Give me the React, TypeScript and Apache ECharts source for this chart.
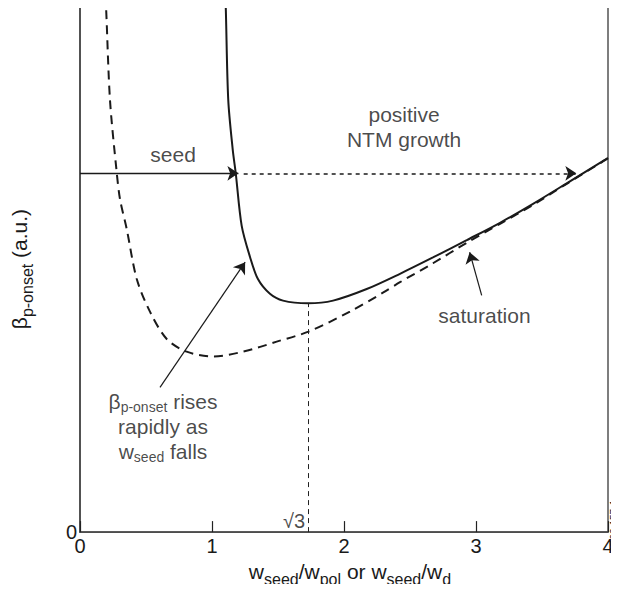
import React, { useEffect, useRef } from "react";
import * as echarts from "echarts";

const FONT = "'Liberation Sans', Arial, Helvetica, sans-serif";
const INK = "#1a1a1a";

// Solid curve (x = w_seed/w_pol)
const solidX = [1.098, 1.104, 1.123, 1.157, 1.18, 1.225, 1.288, 1.348, 1.439, 1.538, 1.727, 1.917, 2.172, 2.424, 2.674, 2.93, 3.182, 3.432, 3.687, 3.939, 4.0];
const solidY = [10.3, 10.0, 8.22, 7.27, 6.82, 5.82, 5.23, 4.81, 4.53, 4.4, 4.35, 4.4, 4.62, 4.91, 5.22, 5.55, 5.88, 6.24, 6.63, 7.02, 7.11];

// Dashed curve (x = w_seed/w_d)
const dashX = [0.19, 0.197, 0.227, 0.278, 0.303, 0.354, 0.43, 0.53, 0.657, 0.808, 1.01, 1.237, 1.49, 1.73, 2.045, 2.295, 2.424, 2.674, 2.93, 3.182, 3.432, 3.687, 3.939, 4.0];
const dashY = [10.2, 10.0, 8.22, 6.84, 6.33, 5.76, 4.81, 4.19, 3.67, 3.43, 3.34, 3.43, 3.62, 3.81, 4.19, 4.55, 4.75, 5.11, 5.5, 5.86, 6.22, 6.62, 7.01, 7.11];

const seedY = 6.82;
const sqrt3 = 1.732;
const solidMin = 4.35;

// Annotation texts (data coordinates of their centres)
const annoX = [0.705, 2.455, 3.064, 0.629, 1.621];
const annoY = [7.14, 7.66, 4.08, 1.97, 0.208];
const annoText = [
  "{b|seed}",
  "{b|positive}\n{b|NTM growth}",
  "{b|saturation}",
  "{b|β}{s|p-onset}{b| rises}\n{b|rapidly as}\n{b|w}{s|seed}{b| falls}",
  "{r|√3}",
];

const xTicks = [0, 1, 2, 3, 4];

export default function App() {
  const ref = useRef<HTMLDivElement>(null);
  useEffect(() => {
    if (!ref.current) return;
    const chart = echarts.init(ref.current, undefined, { renderer: "svg" });
    const rich = {
      b: { fontSize: 21, fontFamily: FONT, color: INK, lineHeight: 25, verticalAlign: "top" },
      s: { fontSize: 14, fontFamily: FONT, color: INK, lineHeight: 14, verticalAlign: "top", padding: [9, 0, 0, 0] },
      r: { fontSize: 20, fontFamily: FONT, color: INK },
    };
    const axRich = {
      b: { fontSize: 21, fontFamily: FONT, color: INK, lineHeight: 25, verticalAlign: "top" },
      s: { fontSize: 16, fontFamily: FONT, color: INK, lineHeight: 15, verticalAlign: "top", padding: [10, 0, 0, 0] },
    };
    const arrowLine = (a: number[], b: number[], type: any, width: number) => [
      { coord: a, symbol: "none" },
      { coord: b, symbol: "arrow", symbolSize: 11, lineStyle: { type, width, color: INK } },
    ];
    chart.setOption({
      animation: false,
      grid: { left: 80, right: 11, top: 6, bottom: 58, show: true, borderColor: "#3a3a3a", borderWidth: 1.3 },
      xAxis: {
        type: "value",
        min: 0,
        max: 4,
        interval: 1,
        name: "{b|w}{s|seed}{b|/w}{s|pol}{b| or w}{s|seed}{b|/w}{s|d}",
        nameLocation: "middle",
        nameGap: 26,
        nameTextStyle: { rich: axRich, padding: [0, 0, 0, 12] },
        axisLine: { lineStyle: { color: "#444", width: 1.5 } },
        axisTick: { inside: true, length: 11, lineStyle: { color: "#222", width: 1.2 } },
        axisLabel: { fontSize: 20, fontFamily: FONT, color: INK, margin: 4, formatter: (v: number) => (xTicks.includes(v) ? String(v) : "") },
        splitLine: { show: false },
      },
      yAxis: {
        type: "value",
        min: 0,
        max: 10,
        interval: 10,
        name: "{b|β}{s|p-onset}{b| (a.u.)}",
        nameLocation: "middle",
        nameGap: 46,
        nameRotate: 90,
        nameTextStyle: { rich: axRich },
        axisLine: { show: true, lineStyle: { color: "#444", width: 1.5 } },
        axisTick: { show: false },
        axisLabel: { fontSize: 20, fontFamily: FONT, color: INK, margin: 3, padding: [0, 0, 8, 0], formatter: (v: number) => (v === 0 ? "0" : "") },
        splitLine: { show: false },
      },
      series: [
        {
          type: "line",
          data: dashX.map((x, i) => [x, dashY[i]]),
          showSymbol: false,
          smooth: 0.3,
          lineStyle: { color: INK, width: 2, type: [9, 6] },
          silent: true,
        },
        {
          type: "line",
          data: solidX.map((x, i) => [x, solidY[i]]),
          showSymbol: false,
          smooth: 0.3,
          lineStyle: { color: INK, width: 2 },
          silent: true,
          markLine: {
            silent: true,
            symbol: ["none", "none"],
            label: { show: false },
            lineStyle: { color: INK, width: 1.2, type: "solid" },
            data: [
              [
                { coord: [sqrt3, 0], symbol: "none", lineStyle: { type: [5, 4], width: 1, color: "#222" } },
                { coord: [sqrt3, solidMin], symbol: "none" },
              ],
              arrowLine([0, seedY], [1.2, seedY], "solid", 1.3),
              arrowLine([1.24, seedY], [3.76, seedY], [4, 4], 1.5),
              arrowLine([0.606, 2.75], [1.251, 5.13], "solid", 1.2),
              arrowLine([3.043, 4.5], [2.952, 5.32], "solid", 1.2),
            ],
          },
        },
        {
          type: "scatter",
          symbolSize: 1,
          itemStyle: { color: "rgba(0,0,0,0)" },
          silent: true,
          data: annoX.map((x, i) => ({ value: [x, annoY[i]], label: { formatter: annoText[i] } })),
          label: { show: true, position: "inside", align: "center", verticalAlign: "middle", rich },
        },
      ],
      graphic: [
        {
          type: "text",
          left: 609,
          top: 495,
          rotation: Math.PI / 2,
          style: { text: "JG02.157-1c", fontSize: 10, fontFamily: FONT, fill: "#222" },
          silent: true,
          z: 100,
        },
      ],
    });
    return () => chart.dispose();
  }, []);
  return <div ref={ref} style={{ width: 619, height: 592, margin: -8 }} />;
}
